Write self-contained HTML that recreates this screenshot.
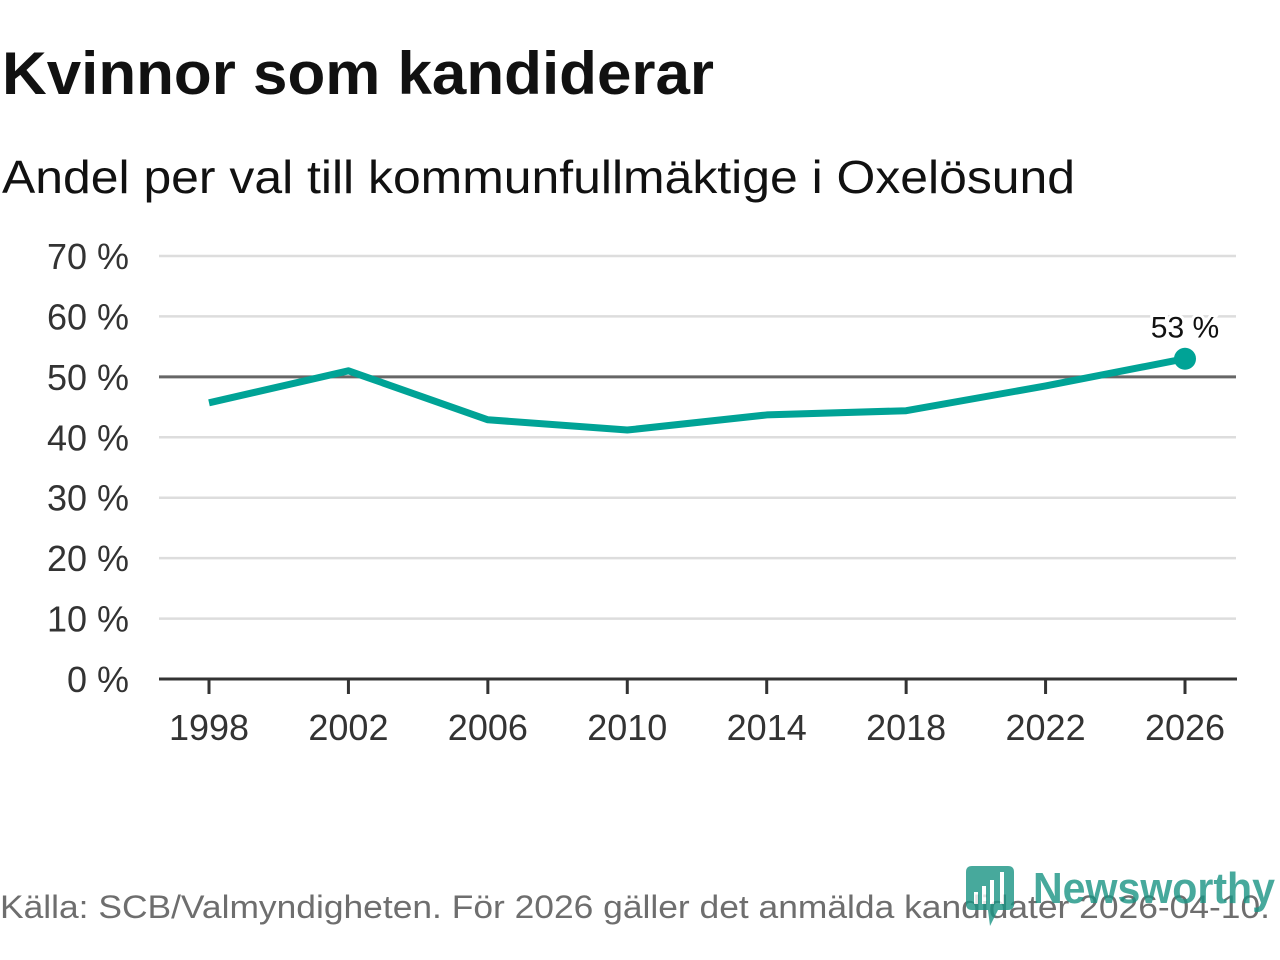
<!DOCTYPE html>
<html><head><meta charset="utf-8"><style>
html,body{margin:0;padding:0;background:#fff;width:1280px;height:960px;overflow:hidden}
svg{display:block;font-family:"Liberation Sans",sans-serif}
</style></head><body>
<svg id="chart" width="1280" height="960" viewBox="0 0 1280 960">
<text x="2" y="94" font-size="60" font-weight="bold" fill="#111" textLength="712" lengthAdjust="spacingAndGlyphs">Kvinnor som kandiderar</text>
<text x="2" y="193" font-size="46" fill="#111" textLength="1073" lengthAdjust="spacingAndGlyphs">Andel per val till kommunfullmäktige i Oxelösund</text>
<g id="grid"></g>
<g id="yaxis"></g>
<g id="xaxis"></g>
<g id="series"></g>
<text x="0" y="918" font-size="32" fill="#6e6e6e" textLength="1270" lengthAdjust="spacingAndGlyphs">Källa: SCB/Valmyndigheten. För 2026 gäller det anmälda kandidater 2026-04-10.</text>
<g opacity="0.8">
<path d="M972 866 H1008 Q1014 866 1014 872 V904 Q1014 910 1008 910 H998 L990 926 L988 910 H972 Q966 910 966 904 V872 Q966 866 972 866 Z" fill="#1a9484"/>
<rect x="974" y="892" width="4" height="12" fill="#fff"/><rect x="982" y="886" width="4" height="18" fill="#fff"/><rect x="990" y="880" width="4" height="24" fill="#fff"/><rect x="1000" y="872" width="4" height="32" fill="#fff"/>
<text x="1033" y="903" font-size="44" font-weight="bold" fill="#1a9484" textLength="242" lengthAdjust="spacingAndGlyphs">Newsworthy</text>
</g>
</svg>
<script>
const years = [1998, 2002, 2006, 2010, 2014, 2018, 2022, 2026];
const shares = [45.7, 51.0, 42.9, 41.2, 43.7, 44.4, 48.5, 53.0];
const yTicks = [0, 10, 20, 30, 40, 50, 60, 70];
const yTickLabels = ["0 %", "10 %", "20 %", "30 %", "40 %", "50 %", "60 %", "70 %"];
const lastLabel = "53 %";

const NS = "http://www.w3.org/2000/svg";
const xs = v => 209 + (v - 1998) * (1185 - 209) / 28;
const ys = v => 679 - v * (679 - 256) / 70;
function mk(tag, attrs, parent, txt) {
  const e = document.createElementNS(NS, tag);
  for (const k in attrs) e.setAttribute(k, attrs[k]);
  if (txt !== undefined) e.textContent = txt;
  parent.appendChild(e);
  return e;
}
const grid = document.getElementById('grid');
const yaxis = document.getElementById('yaxis');
const xaxis = document.getElementById('xaxis');
const series = document.getElementById('series');

yTicks.forEach((t, i) => {
  if (t !== 0) {
    const l = mk('line', {x1: 159, x2: 1236, y1: ys(t), y2: ys(t), stroke: t === 50 ? '#666' : '#ddd', 'stroke-width': t === 50 ? 3 : 2.5}, grid);
    
    
  }
  const tx = mk('text', {x: 129, y: ys(t) + 13, 'font-size': 36, fill: '#333', 'text-anchor': 'end'}, yaxis, yTickLabels[i]);
  
  
});
const base = mk('line', {x1: 159, x2: 1237, y1: ys(0), y2: ys(0), stroke: '#333', 'stroke-width': 3}, xaxis);


years.forEach(y => {
  const tk = mk('line', {x1: xs(y), x2: xs(y), y1: ys(0), y2: ys(0) + 15, stroke: '#333', 'stroke-width': 3}, xaxis);
  
  
  const tl = mk('text', {x: xs(y), y: 740, 'font-size': 36, fill: '#333', 'text-anchor': 'middle'}, xaxis, String(y));
  
  
});
const d = years.map((y, i) => (i ? 'L' : 'M') + xs(y) + ' ' + ys(shares[i])).join(' ');
const path = mk('path', {d: d, fill: 'none', stroke: '#00a396', 'stroke-width': 7, 'stroke-linejoin': 'round'}, series);


const n = years.length - 1;
const dot = mk('circle', {cx: xs(years[n]), cy: ys(shares[n]), r: 11, fill: '#00a396'}, series);


const lab = mk('text', {x: xs(years[n]), y: ys(shares[n]) - 21, 'font-size': 30, fill: '#111', 'text-anchor': 'middle', stroke: '#fff', 'stroke-width': 6, 'paint-order': 'stroke'}, series, lastLabel);


</script>
</body></html>
